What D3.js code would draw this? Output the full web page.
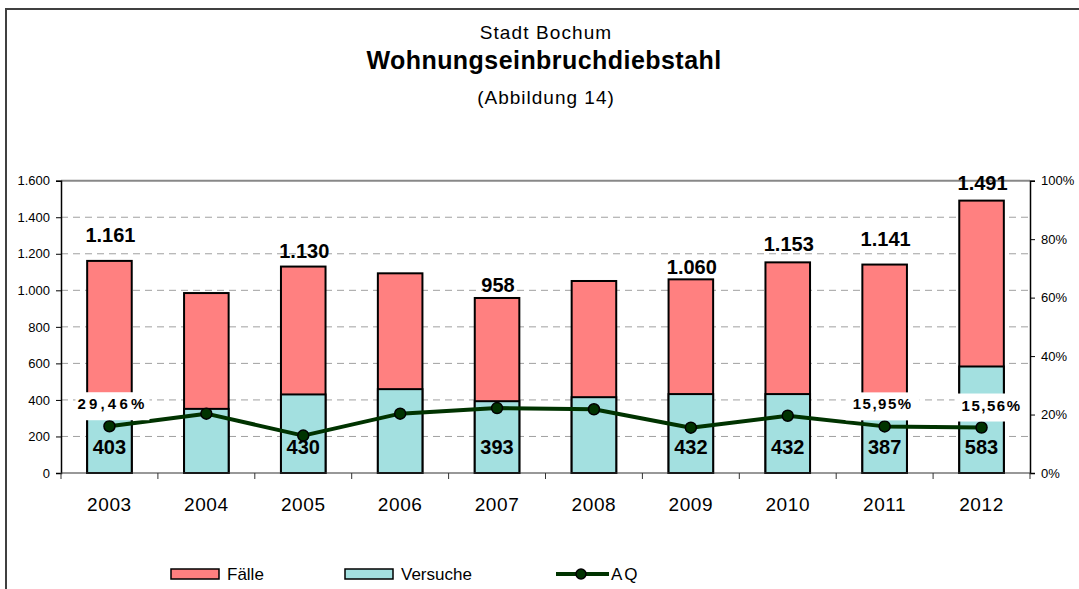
<!DOCTYPE html>
<html>
<head>
<meta charset="utf-8">
<script src="https://cdn.jsdelivr.net/npm/d3@7"></script>
<style>
  body { margin: 0; background: #fff; }
  svg { display: block; font-family: "Liberation Sans", Arial, sans-serif; }
</style>
</head>
<body>
<div id="chart"></div>
<script>
// data
const years = ["2003", "2004", "2005", "2006", "2007", "2008", "2009", "2010", "2011", "2012"];
const faelle = [1161, 985, 1130, 1093, 958, 1051, 1060, 1153, 1141, 1491];
const versuche = [403, 351, 430, 459, 393, 415, 432, 432, 387, 583];
const aq = [16.0, 20.3, 12.8, 20.3, 22.2, 21.8, 15.5, 19.6, 15.95, 15.56];
const showValue = [true, false, true, false, true, false, true, true, true, true];
const aqLabels = ["29,46%", null, null, null, null, null, null, null, "15,95%", "15,56%"];
const leftTicks = [0, 200, 400, 600, 800, 1000, 1200, 1400, 1600];
const rightTicks = [0, 20, 40, 60, 80, 100];

// label placement (hand-placed in the original)
const totalLift = [26, 0, 16, 0, 13, 0, 12, 18, 26, 18];
const aqNudge = [3, 0, 0, 0, 0, 0, 0, 0, -2, 10];
const aqSpacing = [3.2, 0, 0, 0, 0, 0, 0, 0, 1.5, 1.5];

const de = d3.formatLocale({decimal: ",", thousands: ".", grouping: [3], currency: ["", " €"]});
const fmtInt = de.format(",d");

const W = 1079, H = 589;
const m = {left: 61, right: 1030, top: 180.7, bottom: 473};
const red = "#ff8080", cyan = "#a3e0e0", green = "#003300";

const svg = d3.select("#chart").append("svg")
    .attr("width", W)
    .attr("height", H);

// outer frame
svg.append("path")
    .attr("d", `M6,${H}V9H${W}`)
    .attr("fill", "none")
    .attr("stroke", "#404040")
    .attr("stroke-width", 2);

// titles
svg.append("text")
    .attr("x", 546).attr("y", 39)
    .attr("text-anchor", "middle")
    .style("font-size", "19px")
    .style("letter-spacing", "1.1px")
    .text("Stadt Bochum");
svg.append("text")
    .attr("x", 544).attr("y", 69)
    .attr("text-anchor", "middle")
    .style("font-size", "25px")
    .style("font-weight", "bold")
    .style("letter-spacing", "0.45px")
    .text("Wohnungseinbruchdiebstahl");
svg.append("text")
    .attr("x", 546).attr("y", 104)
    .attr("text-anchor", "middle")
    .style("font-size", "19px")
    .style("letter-spacing", "1px")
    .text("(Abbildung 14)");

const x = d3.scaleBand()
    .domain(years)
    .range([m.left, m.right])
    .paddingInner(0.54)
    .paddingOuter(0.27);
const y = d3.scaleLinear().domain([0, 1600]).range([m.bottom, m.top]);
const y2 = d3.scaleLinear().domain([0, 100]).range([m.bottom, m.top]);
const step = x.step();

// gridlines
svg.append("g")
    .selectAll("line")
    .data(leftTicks.filter(d => d > 0 && d < 1600))
    .join("line")
    .attr("x1", m.left).attr("x2", m.right)
    .attr("y1", d => y(d)).attr("y2", d => y(d))
    .attr("stroke", "#a0a0a0")
    .attr("stroke-dasharray", "7,5");
svg.append("line")
    .attr("x1", m.left).attr("x2", m.right)
    .attr("y1", y(1600)).attr("y2", y(1600))
    .attr("stroke", "#888")
    .attr("stroke-width", 2);

// bars: Fälle behind, Versuche in front
const bars = svg.append("g");
bars.selectAll(".faelle")
    .data(years)
    .join("rect")
    .attr("class", "faelle")
    .attr("x", d => x(d))
    .attr("width", x.bandwidth())
    .attr("y", (d, i) => y(faelle[i]))
    .attr("height", (d, i) => y(0) - y(faelle[i]))
    .attr("fill", red)
    .attr("stroke", "#000")
    .attr("stroke-width", 2);
bars.selectAll(".versuche")
    .data(years)
    .join("rect")
    .attr("class", "versuche")
    .attr("x", d => x(d))
    .attr("width", x.bandwidth())
    .attr("y", (d, i) => y(versuche[i]))
    .attr("height", (d, i) => y(0) - y(versuche[i]))
    .attr("fill", cyan)
    .attr("stroke", "#000")
    .attr("stroke-width", 2);

// axes
const axisL = svg.append("g")
    .attr("transform", `translate(${m.left},0)`)
    .call(d3.axisLeft(y).tickValues(leftTicks).tickSize(5).tickPadding(6).tickFormat(fmtInt));
axisL.select(".domain").attr("stroke", "#000").attr("stroke-width", 1.5);
axisL.selectAll("text").style("font-size", "13px").attr("fill", "#000");

const axisR = svg.append("g")
    .attr("transform", `translate(${m.right},0)`)
    .call(d3.axisRight(y2).tickValues(rightTicks).tickSize(5).tickPadding(6).tickFormat(d => d + "%"));
axisR.select(".domain").attr("stroke", "#000").attr("stroke-width", 1.5);
axisR.selectAll("text").style("font-size", "13px").attr("fill", "#000");

svg.append("line")
    .attr("x1", m.left).attr("x2", m.right)
    .attr("y1", m.bottom).attr("y2", m.bottom)
    .attr("stroke", "#333").attr("stroke-width", 1.2);
svg.append("g")
    .selectAll("line")
    .data(d3.range(years.length + 1))
    .join("line")
    .attr("x1", i => m.left + i * step).attr("x2", i => m.left + i * step)
    .attr("y1", m.bottom).attr("y2", m.bottom + 6)
    .attr("stroke", "#333");
svg.append("g")
    .selectAll("text")
    .data(years)
    .join("text")
    .attr("x", d => x(d) + x.bandwidth() / 2)
    .attr("y", 511)
    .attr("text-anchor", "middle")
    .style("font-size", "19px")
    .style("letter-spacing", "0.6px")
    .text(d => d);

// AQ line
const line = d3.line()
    .x((d, i) => x(years[i]) + x.bandwidth() / 2)
    .y(d => y2(d));
svg.append("path")
    .datum(aq)
    .attr("d", line)
    .attr("fill", "none")
    .attr("stroke", green)
    .attr("stroke-width", 4)
    .attr("stroke-linejoin", "round");
svg.append("g")
    .selectAll("circle")
    .data(aq)
    .join("circle")
    .attr("cx", (d, i) => x(years[i]) + x.bandwidth() / 2)
    .attr("cy", d => y2(d))
    .attr("r", 5.5)
    .attr("fill", green)
    .attr("stroke", "#000")
    .attr("stroke-width", 1.5);

// value labels
const idx = d3.range(years.length).filter(i => showValue[i]);
svg.append("g")
    .selectAll("text")
    .data(idx)
    .join("text")
    .attr("x", i => x(years[i]) + x.bandwidth() / 2 + 1)
    .attr("y", i => y(faelle[i]) - totalLift[i] + 7)
    .attr("text-anchor", "middle")
    .style("font-size", "20px")
    .style("font-weight", "bold")
    .text(i => fmtInt(faelle[i]));
svg.append("g")
    .selectAll("text")
    .data(idx)
    .join("text")
    .attr("x", i => x(years[i]) + x.bandwidth() / 2)
    .attr("y", 454)
    .attr("text-anchor", "middle")
    .style("font-size", "20px")
    .style("font-weight", "bold")
    .text(i => fmtInt(versuche[i]));

const aqIdx = d3.range(years.length).filter(i => aqLabels[i]);
const aqG = svg.append("g")
    .selectAll("g")
    .data(aqIdx)
    .join("g")
    .attr("transform", i => `translate(${x(years[i]) + x.bandwidth() / 2 + aqNudge[i]},${y2(aq[i]) - 22})`);
aqG.append("rect")
    .attr("x", -37).attr("y", -12)
    .attr("width", 74).attr("height", 28)
    .attr("fill", "#fff");
aqG.append("text")
    .attr("y", 5)
    .attr("text-anchor", "middle")
    .style("font-size", "15px")
    .style("font-weight", "bold")
    .style("letter-spacing", i => aqSpacing[i] + "px")
    .text(i => aqLabels[i]);

// legend
const legendItems = [
    {label: "Fälle", type: "bar", color: red, x: 171},
    {label: "Versuche", type: "bar", color: cyan, x: 345},
    {label: "AQ", type: "line", color: green, x: 556}
];
const lg = svg.append("g")
    .selectAll("g")
    .data(legendItems)
    .join("g")
    .attr("transform", d => `translate(${d.x},574)`);
lg.filter(d => d.type === "bar").append("rect")
    .attr("x", 0).attr("y", -5)
    .attr("width", 48).attr("height", 10)
    .attr("fill", d => d.color)
    .attr("stroke", "#000")
    .attr("stroke-width", 1.5);
lg.filter(d => d.type === "line").append("line")
    .attr("x1", 0).attr("x2", 53)
    .attr("stroke", green).attr("stroke-width", 4);
lg.filter(d => d.type === "line").append("circle")
    .attr("cx", 25).attr("r", 5)
    .attr("fill", green).attr("stroke", "#000").attr("stroke-width", 1.5);
lg.append("text")
    .attr("x", d => d.type === "bar" ? 56 : 55)
    .attr("y", 6)
    .style("font-size", "17px")
    .style("letter-spacing", d => d.type === "line" ? "2px" : "0px")
    .text(d => d.label);
</script>
</body>
</html>
